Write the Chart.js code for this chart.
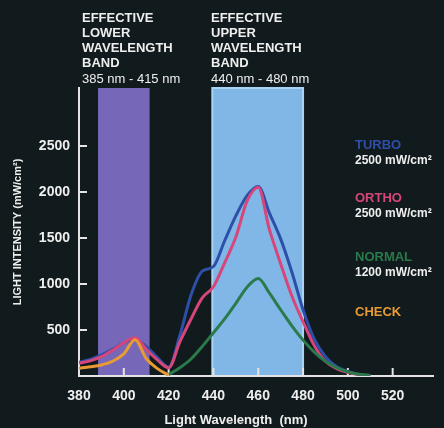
<!DOCTYPE html>
<html>
<head>
<meta charset="utf-8">
<script src="https://cdn.jsdelivr.net/npm/chart.js@4.4.1/dist/chart.umd.min.js"></script>
<style>
  html, body { margin: 0; padding: 0; background: #111a1c; }
  #wrap { width: 444px; height: 428px; }
</style>
</head>
<body>
<div id="wrap"><canvas id="spectrumChart" width="444" height="428"></canvas></div>
<script>
// Wavelengths (nm) shared by every series
const wavelengths = [380, 385, 390, 395, 400, 405, 410, 415, 420, 425, 430, 435, 440, 445,
                     450, 455, 460, 465, 470, 475, 480, 485, 490, 495, 500, 505, 510];

const turboValues  = [150, 180, 230, 290, 360, 400, 320, 200, 95, 440, 880, 1140, 1190, 1470,
                      1740, 1960, 2060, 1770, 1490, 1130, 720, 400, 210, 100, 50, 15, 0];
const orthoValues  = [140, 165, 210, 280, 360, 415, 290, 175, 88, 370, 620, 850, 970, 1230,
                      1510, 1900, 2050, 1590, 1220, 870, 590, 330, 160, 80, 40, 15, 0];
const normalValues = [null, null, null, null, null, null, null, null, 15, 90, 185, 320, 470, 620,
                      790, 965, 1060, 900, 720, 545, 390, 260, 160, 90, 45, 20, 5];
const checkValues  = [85, 100, 120, 160, 240, 395, 190, 80, 10, null, null, null, null, null,
                      null, null, null, null, null, null, null, null, null, null, null, null, null];

const xTickValues = [380, 400, 420, 440, 460, 480, 500, 520];
const yTickValues = [500, 1000, 1500, 2000, 2500];

// Effective wavelength bands as drawn
const lowerBand = [388.5, 411.5];
const upperBand = [439.5, 480];

const colors = {
    bg: '#111a1c',
    text: '#eeeeee',
    axis: '#e4e4e4',
    turbo: '#2d4fa8',
    ortho: '#d6467a',
    normal: '#2b7a4c',
    check: '#e89b35',
    lowerBand: '#7767b9',
    upperBand: '#81b7e7',
    upperEdge: '#a9d3f3'
};

const FONT = '"Liberation Sans", Arial, sans-serif';

function toPoints(values) {
    return wavelengths.map((w, i) => ({ x: w, y: values[i] }));
}

// Bands behind everything
const bandsPlugin = {
    id: 'bands',
    beforeDraw(chart) {
        const { ctx, chartArea, scales } = chart;
        const x = scales.x;
        const top = chartArea.top;
        const h = chartArea.bottom - 1 - top;
        ctx.save();
        ctx.fillStyle = colors.lowerBand;
        const l0 = x.getPixelForValue(lowerBand[0]);
        const l1 = x.getPixelForValue(lowerBand[1]);
        ctx.fillRect(l0, top, l1 - l0, h);
        const u0 = x.getPixelForValue(upperBand[0]);
        const u1 = x.getPixelForValue(upperBand[1]);
        ctx.fillStyle = colors.upperEdge;
        ctx.fillRect(u0 - 1, top - 1, u1 - u0 + 2, h + 1);
        ctx.fillStyle = colors.upperBand;
        ctx.fillRect(u0 + 1, top + 1, u1 - u0 - 2, h - 1);
        ctx.restore();
    }
};

// Tick marks drawn inward from the axes
const innerTicksPlugin = {
    id: 'innerTicks',
    beforeDatasetsDraw(chart) {
        const { ctx, chartArea, scales } = chart;
        ctx.save();
        ctx.strokeStyle = colors.axis;
        ctx.lineWidth = 2;
        ctx.beginPath();
        yTickValues.forEach(v => {
            const py = scales.y.getPixelForValue(v);
            ctx.moveTo(chartArea.left, py);
            ctx.lineTo(chartArea.left + 8, py);
        });
        xTickValues.slice(1).forEach(v => {
            const px = scales.x.getPixelForValue(v);
            ctx.moveTo(px, chartArea.bottom);
            ctx.lineTo(px, chartArea.bottom - 8);
        });
        ctx.stroke();
        ctx.restore();
    }
};

// Band captions, legend and x title
const labelsPlugin = {
    id: 'labels',
    afterDraw(chart) {
        const { ctx } = chart;
        ctx.save();
        ctx.textBaseline = 'middle';
        ctx.textAlign = 'left';
        ctx.fillStyle = colors.text;

        const lowerLines = ['EFFECTIVE', 'LOWER', 'WAVELENGTH', 'BAND'];
        const upperLines = ['EFFECTIVE', 'UPPER', 'WAVELENGTH', 'BAND'];
        ctx.font = 'bold 13px ' + FONT;
        lowerLines.forEach((t, i) => ctx.fillText(t, 82, 18 + i * 15));
        upperLines.forEach((t, i) => ctx.fillText(t, 211, 18 + i * 15));
        ctx.font = '13px ' + FONT;
        ctx.fillText('385 nm - 415 nm', 82, 79);
        ctx.fillText('440 nm - 480 nm', 211, 79);

        const legend = [
            { name: 'TURBO', color: colors.turbo, sub: '2500 mW/cm²', y: 145 },
            { name: 'ORTHO', color: colors.ortho, sub: '2500 mW/cm²', y: 198 },
            { name: 'NORMAL', color: colors.normal, sub: '1200 mW/cm²', y: 257 },
            { name: 'CHECK', color: colors.check, sub: null, y: 312 }
        ];
        legend.forEach(item => {
            ctx.font = 'bold 13px ' + FONT;
            ctx.fillStyle = item.color;
            ctx.fillText(item.name, 355, item.y);
            if (item.sub) {
                ctx.fillStyle = colors.text;
                ctx.font = 'bold 12px ' + FONT;
                ctx.fillText(item.sub, 355, item.y + 16);
            }
        });

        ctx.fillStyle = colors.text;
        ctx.font = 'bold 13px ' + FONT;
        ctx.textAlign = 'center';
        ctx.fillText('Light Wavelength  (nm)', 236, 420);
        ctx.restore();
    }
};

const ctx = document.getElementById('spectrumChart').getContext('2d');
const spectrumChart = new Chart(ctx, {
    type: 'line',
    data: {
        datasets: [{
            label: 'CHECK',
            data: toPoints(checkValues),
            borderColor: colors.check,
            order: 0
        }, {
            label: 'NORMAL',
            data: toPoints(normalValues),
            borderColor: colors.normal,
            order: 1
        }, {
            label: 'ORTHO',
            data: toPoints(orthoValues),
            borderColor: colors.ortho,
            order: 2
        }, {
            label: 'TURBO',
            data: toPoints(turboValues),
            borderColor: colors.turbo,
            order: 3
        }]
    },
    options: {
        responsive: false,
        animation: false,
        devicePixelRatio: 1,
        layout: { padding: { top: 88, right: 11, left: 0, bottom: 0 } },
        elements: {
            line: { borderWidth: 3, tension: 0.4, cubicInterpolationMode: 'monotone', fill: false },
            point: { radius: 0 }
        },
        plugins: {
            legend: { display: false },
            tooltip: { enabled: false }
        },
        scales: {
            x: {
                type: 'linear',
                min: 380,
                max: 538,
                afterFit(scale) { scale.height = 52; },
                afterBuildTicks(scale) { scale.ticks = xTickValues.map(v => ({ value: v })); },
                grid: { display: false, drawTicks: false },
                border: { display: true, color: colors.axis, width: 2 },
                ticks: {
                    color: colors.text,
                    font: { family: FONT, size: 14, weight: 'bold' },
                    padding: 12,
                    maxRotation: 0,
                    autoSkip: false,
                    callback: v => String(v)
                }
            },
            y: {
                type: 'linear',
                min: 0,
                max: 3130,
                afterFit(scale) { scale.width = 79; },
                afterBuildTicks(scale) { scale.ticks = yTickValues.map(v => ({ value: v })); },
                grid: { display: false, drawTicks: false },
                border: { display: true, color: colors.axis, width: 2 },
                ticks: {
                    color: colors.text,
                    font: { family: FONT, size: 14, weight: 'bold' },
                    padding: 9,
                    callback: v => String(v)
                },
                title: {
                    display: true,
                    text: 'LIGHT INTENSITY (mW/cm²)',
                    color: colors.text,
                    font: { family: FONT, size: 11, weight: 'bold' },
                    padding: { top: 11, bottom: 0 }
                }
            }
        }
    },
    plugins: [bandsPlugin, innerTicksPlugin, labelsPlugin]
});
</script>
</body>
</html>
